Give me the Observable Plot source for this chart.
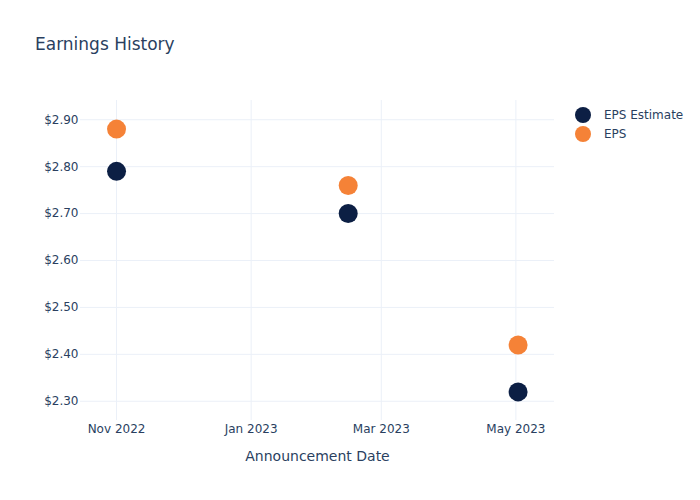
<!DOCTYPE html>
<html>
<head>
<meta charset="utf-8">
<script src="https://cdn.jsdelivr.net/npm/d3@7"></script>
<script src="https://cdn.jsdelivr.net/npm/@observablehq/plot@0.6"></script>
<style>
  html, body { margin: 0; padding: 0; background: #fff; }
  #wrap { position: relative; width: 700px; height: 500px; font-family: "DejaVu Sans", sans-serif; color: #2a3f5f; }
  #title { position: absolute; left: 35px; top: 34px; font-size: 17px; line-height: 20px; white-space: nowrap; }
  #legend { position: absolute; left: 575px; top: 105px; font-size: 12px; }
  .item { display: flex; align-items: center; height: 19px; }
  .sw { width: 16px; height: 16px; border-radius: 50%; margin-right: 13px; }
</style>
</head>
<body>
<div id="wrap">
  <div id="chart"></div>
  <div id="title">Earnings History</div>
  <div id="legend"></div>
</div>
<script>
const dates = ["2022-11-01", "2023-02-14", "2023-05-02"];
const epsEstimate = [2.79, 2.70, 2.32];
const eps = [2.88, 2.76, 2.42];
const seriesNames = ["EPS Estimate", "EPS"];
const seriesColors = ["#0c1f44", "#f58237"];
const yTicks = [2.3, 2.4, 2.5, 2.6, 2.7, 2.8, 2.9];
const xTickDates = ["2022-11-01", "2023-01-01", "2023-03-01", "2023-05-01"];
const xTickLabels = ["Nov 2022", "Jan 2023", "Mar 2023", "May 2023"];

const rows = [];
dates.forEach((d, i) => {
  rows.push({date: new Date(d), value: epsEstimate[i], series: seriesNames[0]});
});
dates.forEach((d, i) => {
  rows.push({date: new Date(d), value: eps[i], series: seriesNames[1]});
});
const xTicks = xTickDates.map(d => new Date(d));
const grid = "#ebf0f8";

const chart = Plot.plot({
  width: 700,
  height: 500,
  marginLeft: 80,
  marginRight: 146,
  marginTop: 100,
  marginBottom: 80,
  style: {fontFamily: "DejaVu Sans, sans-serif", fontSize: "12px", color: "#2a3f5f", background: "transparent"},
  x: {type: "utc", domain: [new Date("2022-10-15T16:00:00Z"), new Date("2023-05-18T12:00:00Z")]},
  y: {domain: [2.259, 2.941]},
  color: {domain: seriesNames, range: seriesColors},
  marks: [
    Plot.gridX(xTicks, {stroke: grid, strokeOpacity: 1, strokeWidth: 1}),
    Plot.gridY(yTicks, {stroke: grid, strokeOpacity: 1, strokeWidth: 1}),
    Plot.axisX(xTicks, {tickSize: 0, tickPadding: 4, label: null,
      tickFormat: d => xTickLabels[xTicks.findIndex(t => +t === +d)]}),
    Plot.axisY(yTicks, {tickSize: 0, tickPadding: 2, label: null,
      tickFormat: d => "$" + d.toFixed(2)}),
    Plot.dot(rows, {x: "date", y: "value", fill: "series", r: 9.5, stroke: null}),
    Plot.text(["Announcement Date"], {frameAnchor: "bottom", dy: 40, fontSize: 14, fill: "#2a3f5f"})
  ]
});
document.getElementById("chart").appendChild(chart);

const legend = document.getElementById("legend");
seriesNames.forEach((name, i) => {
  const item = document.createElement("div");
  item.className = "item";
  const sw = document.createElement("div");
  sw.className = "sw";
  sw.style.background = seriesColors[i];
  const label = document.createElement("span");
  label.textContent = name;
  item.appendChild(sw);
  item.appendChild(label);
  legend.appendChild(item);
});
</script>
</body>
</html>
